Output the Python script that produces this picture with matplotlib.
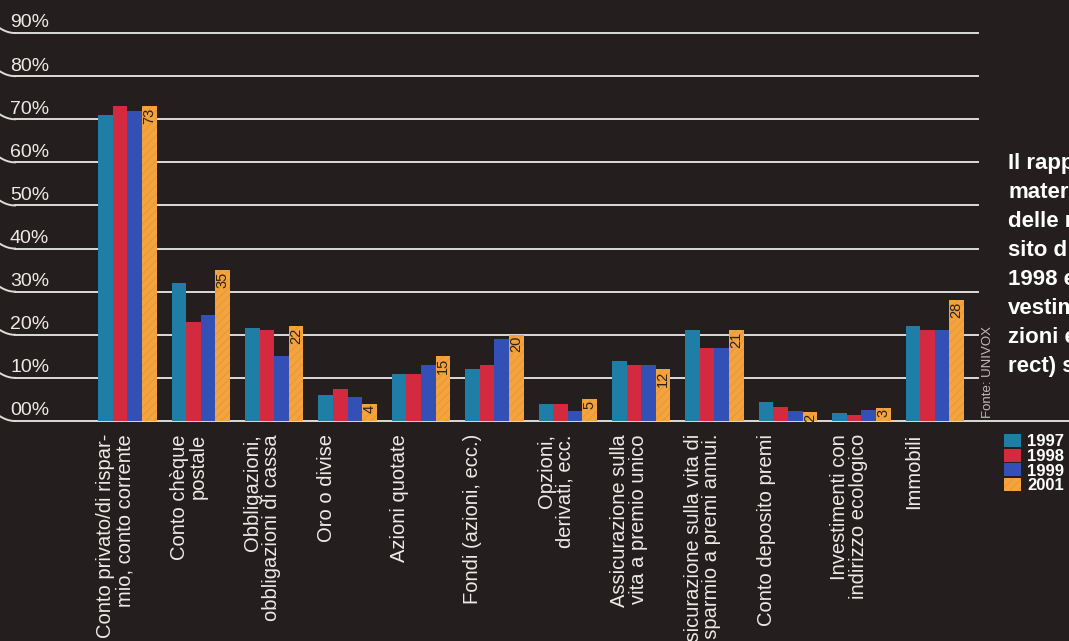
import numpy as np
import matplotlib
matplotlib.use("Agg")
import matplotlib.pyplot as plt

plt.rcParams['font.family'] = ['Liberation Sans', 'DejaVu Sans']
plt.rcParams['hatch.linewidth'] = 0.6

categories = [
    "Conto privato/di rispar-\nmio, conto corrente",
    "Conto chèque\npostale",
    "Obbligazioni,\nobbligazioni di cassa",
    "Oro o divise",
    "Azioni quotate",
    "Fondi (azioni, ecc.)",
    "Opzioni,\nderivati, ecc.",
    "Assicurazione sulla\nvita a premio unico",
    "Assicurazione sulla vita di\nrisparmio a premi annui.",
    "Conto deposito premi",
    "Investimenti con\nindirizzo ecologico",
    "Immobili",
]
years = ["1997", "1998", "1999", "2001"]
v1997 = [71, 32, 21.5, 6, 11, 12, 4, 14, 21, 4.3, 1.8, 22]
v1998 = [73, 23, 21, 7.5, 11, 13, 4, 13, 17, 3.2, 1.5, 21]
v1999 = [72, 24.5, 15, 5.6, 13, 19, 2.3, 13, 17, 2.3, 2.5, 21]
v2001 = [73, 35, 22, 4, 15, 20, 5, 12, 21, 2, 3, 28]
yticks = [0, 10, 20, 30, 40, 50, 60, 70, 80, 90]
ytick_labels = ["00%", "10%", "20%", "30%", "40%", "50%", "60%", "70%", "80%", "90%"]
side_text = ["Il rapp", "mater", "delle r", "sito d", "1998 e", "vestim", "zioni e", "rect) s"]
source = "Fonte: UNIVOX"

colors = ["#1f7ea6", "#d42a40", "#3250b6", "#f3a43f"]
bg = "#241f1e"
line_col = "#dcdcd8"
text_col = "#ecebe8"

W, H = 1069, 641
fig = plt.figure(figsize=[W / 100, H / 100], dpi=100, facecolor=bg)
ax = fig.add_axes([0, 0, 1, 1])
ax.set_facecolor(bg)
ax.axis("off")

# pixel geometry of the original layout
x0_px = 127.3      # centre of first group
step_px = 73.4     # distance between groups
base_px = 421.0    # y of the 0% line
pct_px = 4.311     # pixels per percent


def px_x(p):
    return (p - x0_px) / step_px


def px_y(p):
    return (base_px - p) / pct_px


ax.set_xlim(px_x(0), px_x(W))
ax.set_ylim(px_y(H), px_y(0))

# grid lines with the little swoosh at the left end
for val, lab in zip(yticks, ytick_labels):
    right = px_x(W) if val == 0 else px_x(978)
    ax.plot([px_x(15), right], [val, val], color=line_col, lw=1.4, zorder=1)
    t = np.linspace(0, 1, 20)
    ax.plot(px_x(15 * t), val + 1.1 * (1 - t) ** 2, color=line_col, lw=1.4, zorder=1)
    ax.text(px_x(10), val + 1.3, lab, color=text_col,
            fontsize=14, ha="left", va="baseline")

x = np.arange(len(categories))
bw = 14.6 / step_px
series = [v1997, v1998, v1999, v2001]
for j, vals in enumerate(series):
    xs = x + (j - 1.5) * bw
    hatch = "////" if j == 3 else None
    ax.bar(xs, vals, width=bw, color=colors[j], edgecolor="#e79433" if j == 3 else colors[j],
           linewidth=0, hatch=hatch, zorder=2, label=years[j])
    if j == 3:
        for xi, v in zip(xs, vals):
            ax.text(xi, v - 0.3, "%g" % v, rotation=90, ha="center", va="top",
                    fontsize=10.5, color="#2b2018", zorder=3)

for i, lab in enumerate(categories):
    ax.text(i - 0.42, px_y(434), lab, rotation=90, ha="left", va="top",
            multialignment="right", fontsize=14.5, color=text_col, linespacing=0.98)

ax.text(px_x(988), px_y(418), source, rotation=90, ha="center", va="bottom",
        fontsize=9.5, color="#bdbcb8")

fig.text(1008 / W, 1 - 153 / H, "\n".join(side_text), ha="left", va="top",
         fontsize=16, fontweight="bold", color="white", linespacing=1.5)

leg = ax.legend(loc="upper left", bbox_to_anchor=(1004 / W, 1 - 434 / H),
                bbox_transform=fig.transFigure, frameon=False, fontsize=12,
                handlelength=1.0, handleheight=0.85, handletextpad=0.4,
                labelspacing=-0.05, borderpad=0, borderaxespad=0)
for txt in leg.get_texts():
    txt.set_color("white")
    txt.set_fontweight("bold")

plt.savefig("out.png", dpi=100, facecolor=bg)
